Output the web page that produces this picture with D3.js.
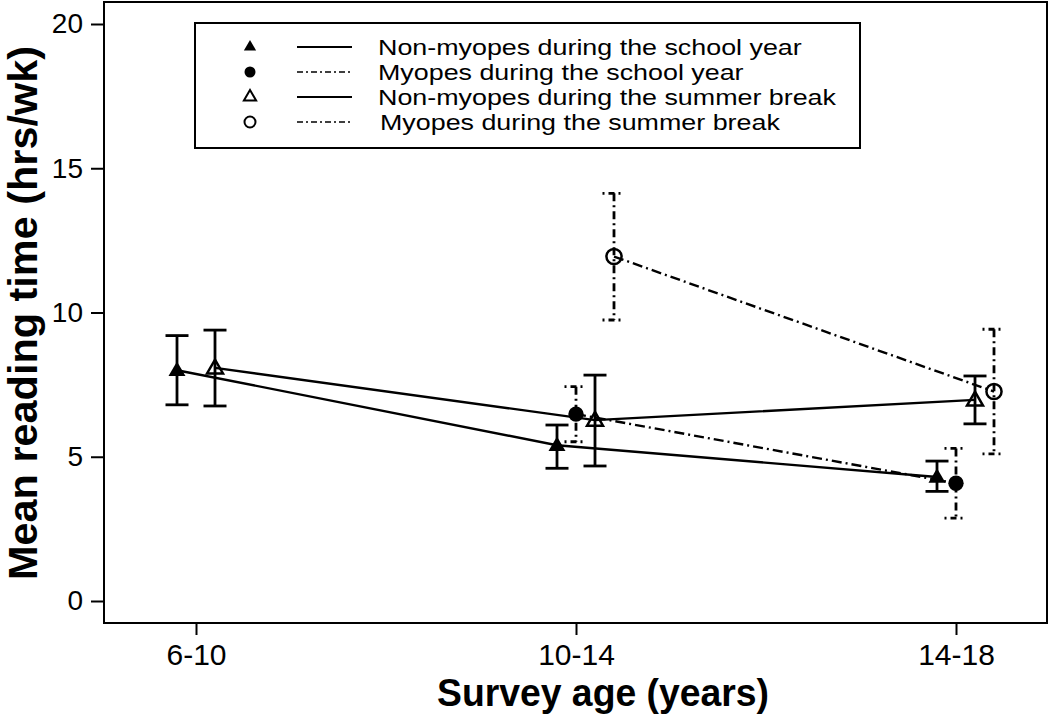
<!DOCTYPE html>
<html><head><meta charset="utf-8">
<script src="https://cdn.jsdelivr.net/npm/d3@7"></script>
<style>
html,body{margin:0;padding:0;background:#fff;}
svg{display:block;font-family:"Liberation Sans",Arial,sans-serif;}
</style></head>
<body>
<svg id="chart" width="1050" height="723"></svg>
<script>
// ---- data ----
const categories = ["6-10", "10-14", "14-18"];
const seriesNames = [
  "Non-myopes during the school year",
  "Myopes during the school year",
  "Non-myopes during the summer break",
  "Myopes during the summer break"
];
const nmSchoolMean = [8.0, 5.4, 4.3];
const nmSchoolLow  = [6.8, 4.6, 3.8];
const nmSchoolHigh = [9.2, 6.1, 4.85];
const mSchoolMean = [null, 6.48, 4.08];
const mSchoolLow  = [null, 5.52, 2.87];
const mSchoolHigh = [null, 7.43, 5.29];
const nmSummerMean = [8.08, 6.27, 6.97];
const nmSummerLow  = [6.76, 4.68, 6.14];
const nmSummerHigh = [9.39, 7.83, 7.80];
const mSummerMean = [null, 11.94, 7.26];
const mSummerLow  = [null, 9.74, 5.10];
const mSummerHigh = [null, 14.13, 9.42];
const yTicks = [0, 5, 10, 15, 20];
const xTitle = "Survey age (years)";
const yTitle = "Mean reading time (hrs/wk)";

// ---- styles per series ----
const seriesStyle = [
  {symbol: d3.symbolTriangle, filled: true, dash: null},
  {symbol: d3.symbolCircle, filled: true, dash: "10,4,2,4"},
  {symbol: d3.symbolTriangle, filled: false, dash: null},
  {symbol: d3.symbolCircle, filled: false, dash: "10,4,2,4"}
];
const seriesData = [
  [nmSchoolMean, nmSchoolLow, nmSchoolHigh],
  [mSchoolMean, mSchoolLow, mSchoolHigh],
  [nmSummerMean, nmSummerLow, nmSummerHigh],
  [mSummerMean, mSummerLow, mSummerHigh]
].map((arr, si) => categories.map((c, ci) => ({
  cat: c, si, mean: arr[0][ci], low: arr[1][ci], high: arr[2][ci]
})).filter(d => d.mean !== null));

// ---- layout ----
const box = {left: 104, right: 1047, top: 2, bottom: 623};
const svg = d3.select("#chart");
const x = d3.scalePoint().domain(categories).range([196, 956]);
const off = d3.scalePoint().domain(d3.range(seriesNames.length)).range([-19, 38]);
const y = d3.scaleLinear().domain([0, 20]).range([601, 24]);
const px = d => x(d.cat) + off(d.si);

// box
svg.append("rect").attr("x", box.left).attr("y", box.top)
  .attr("width", box.right - box.left).attr("height", box.bottom - box.top)
  .attr("fill", "none").attr("stroke", "#000").attr("stroke-width", 2);

// y axis
const yAxis = svg.append("g").attr("transform", `translate(${box.left},0)`)
  .call(d3.axisLeft(y).tickValues(yTicks).tickSize(13).tickSizeOuter(0).tickPadding(8));
yAxis.select(".domain").remove();
yAxis.selectAll(".tick line").attr("stroke", "#000").attr("stroke-width", 2);
yAxis.selectAll(".tick text").attr("font-size", 28).attr("fill", "#000")
  .attr("font-family", "'Liberation Sans', Arial, sans-serif");

// x axis
const xAxis = svg.append("g").attr("transform", `translate(0,${box.bottom})`)
  .call(d3.axisBottom(x).tickSize(12).tickSizeOuter(0).tickPadding(9));
xAxis.select(".domain").remove();
xAxis.selectAll(".tick line").attr("stroke", "#000").attr("stroke-width", 2);
xAxis.selectAll(".tick text").attr("font-size", 30).attr("fill", "#000")
  .attr("font-family", "'Liberation Sans', Arial, sans-serif");

// titles
svg.append("text").attr("x", 603).attr("y", 706).attr("text-anchor", "middle")
  .attr("font-size", 38).attr("font-weight", "bold")
  .attr("textLength", 332).attr("lengthAdjust", "spacingAndGlyphs").text(xTitle);
svg.append("text").attr("transform", "translate(37,313) rotate(-90)")
  .attr("text-anchor", "middle").attr("font-size", 40).attr("font-weight", "bold")
  .attr("textLength", 534).attr("lengthAdjust", "spacingAndGlyphs").text(yTitle);

// error bars
const capW = 23;
seriesData.forEach((data, si) => {
  const st = seriesStyle[si];
  const g = svg.append("g");
  data.forEach(d => {
    const cx = px(d);
    g.append("line").attr("x1", cx).attr("x2", cx).attr("y1", y(d.high)).attr("y2", y(d.low))
      .attr("stroke", "#000").attr("stroke-width", 2.8)
      .attr("stroke-dasharray", st.dash ? "8,4,2,4" : null);
    [d.high, d.low].forEach(v => {
      g.append("line").attr("x1", cx - capW / 2).attr("x2", cx + capW / 2)
        .attr("y1", y(v)).attr("y2", y(v))
        .attr("stroke", "#000").attr("stroke-width", 2.8)
        .attr("stroke-dasharray", st.dash ? "2,4,6,4,2,5" : null);
    });
  });
});

// lines
const line = d3.line().x(px).y(d => y(d.mean));
seriesData.forEach((data, si) => {
  svg.append("path").attr("d", line(data)).attr("fill", "none")
    .attr("stroke", "#000").attr("stroke-width", 2.4)
    .attr("stroke-dasharray", seriesStyle[si].dash);
});

// markers
seriesData.forEach((data, si) => {
  const st = seriesStyle[si];
  const tri = st.symbol === d3.symbolTriangle;
  svg.append("g").selectAll("path").data(data).join("path")
    .attr("transform", d => `translate(${px(d)},${y(d.mean) + (tri ? 1 : 0)})`)
    .attr("d", d3.symbol().type(st.symbol).size(tri ? (st.filled ? 125 : 110) : (st.filled ? 185 : 180)))
    .attr("fill", st.filled ? "#000" : "none")
    .attr("stroke", "#000").attr("stroke-width", st.filled ? 0 : 2.5);
});

// legend
const lg = svg.append("g");
lg.append("rect").attr("x", 195).attr("y", 23).attr("width", 665).attr("height", 125)
  .attr("fill", "#fff").attr("stroke", "#000").attr("stroke-width", 2);
const rowY = d3.scalePoint().domain(d3.range(seriesNames.length)).range([47, 122]);
seriesNames.forEach((name, i) => {
  const st = seriesStyle[i];
  const yy = rowY(i);
  lg.append("path").attr("transform", `translate(250,${yy})`)
    .attr("d", d3.symbol().type(st.symbol).size(st.symbol === d3.symbolTriangle ? 65 : 95))
    .attr("fill", st.filled ? "#000" : "none").attr("stroke", "#000")
    .attr("stroke-width", st.filled ? 0 : 2);
  lg.append("line").attr("x1", 297).attr("x2", 352).attr("y1", yy).attr("y2", yy)
    .attr("stroke", "#000").attr("stroke-width", st.dash ? 1.5 : 2)
    .attr("stroke-dasharray", st.dash ? "6,3,2,3" : null);
  const t = lg.append("text").attr("x", i === 3 ? 380 : 378).attr("y", yy).attr("dy", "0.36em")
    .attr("font-size", 22).text(name);
  const w = t.node().getComputedTextLength();
  t.attr("textLength", w * 1.22).attr("lengthAdjust", "spacingAndGlyphs");
});
</script>
</body></html>
